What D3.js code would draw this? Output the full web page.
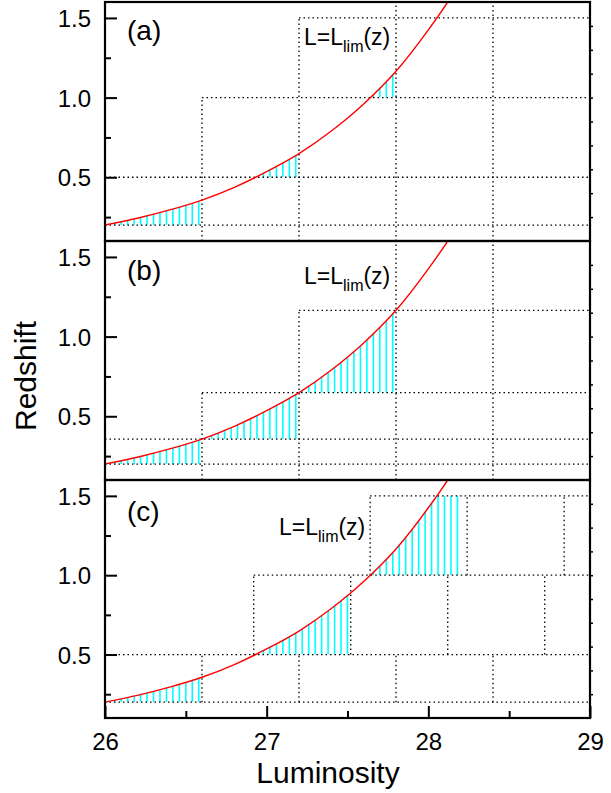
<!DOCTYPE html>
<html>
<head>
<meta charset="utf-8">
<script src="https://cdn.jsdelivr.net/npm/d3@7"></script>
<style>
  html, body { margin: 0; padding: 0; background: #fff; }
  svg { display: block; font-family: "Liberation Sans", Arial, sans-serif; }
</style>
</head>
<body>
<svg id="chart" width="611" height="793"></svg>
<script>
// ---------- data ----------
const panelLabels = ["(a)", "(b)", "(c)"];
const lumTicks = [26, 27, 28, 29];
const lumMinorTicks = [26.5, 27.5, 28.5];
const zMajorTicks = [0.5, 1.0, 1.5];
const zMinorTicks = [0.25, 0.75, 1.25];
const zRightTicks = [0.25, 0.4, 0.55, 0.7, 0.85, 1.0, 1.15, 1.3, 1.45];

// limiting curve L = Llim(z)
const curveL = [26.0, 26.2, 26.4, 26.6, 26.8, 27.0, 27.2, 27.4, 27.6, 27.8, 28.0, 28.12, 28.2];
const curveZ = [0.200, 0.243, 0.295, 0.357, 0.437, 0.535, 0.648, 0.790, 0.960, 1.165, 1.425, 1.600, 1.730];

// dotted grid: horizontal [z, L0, L1], vertical [L, z0, z1]
const gridH_a = [[0.2, 26, 29], [0.5, 26, 29], [1.0, 26.6, 29], [1.5, 27.2, 29]];
const gridV_a = [[26.6, 0.1, 1.0], [27.2, 0.1, 1.5], [27.8, 0.1, 1.6], [28.4, 0.1, 1.6]];
const gridH_b = [[0.2, 26, 29], [0.357, 26, 29], [0.648, 26.6, 29], [1.165, 27.2, 29]];
const gridV_b = [[26.6, 0.1, 0.648], [27.2, 0.1, 1.165], [27.8, 0.1, 1.6], [28.4, 0.1, 1.6]];
const gridH_c = [[0.2, 26, 29], [0.5, 26, 29], [1.0, 26.92, 29], [1.5, 27.64, 29]];
const gridV_c = [[26.6, 0.2, 0.5], [27.2, 0.2, 0.5], [27.8, 0.2, 0.5], [28.4, 0.2, 0.5],
                 [26.92, 0.5, 1.0], [27.52, 0.5, 1.0], [28.12, 0.5, 1.0], [28.72, 0.5, 1.0],
                 [27.64, 1.0, 1.5], [28.24, 1.0, 1.5], [28.84, 1.0, 1.5]];

// hatched cells [L0, L1, z0, z1] (clipped below the curve)
const cells_a = [[26, 26.6, 0.2, 0.5], [26.6, 27.2, 0.5, 1.0], [27.2, 27.8, 1.0, 1.5]];
const cells_b = [[26, 26.6, 0.2, 0.357], [26.6, 27.2, 0.357, 0.648], [27.2, 27.8, 0.648, 1.165]];
const cells_c = [[26, 26.6, 0.2, 0.5], [26.92, 27.52, 0.5, 1.0], [27.64, 28.24, 1.0, 1.5]];

// ---------- layout ----------
const svg = d3.select("#chart");
const FONT = "Liberation Sans, Arial, sans-serif";
const x = d3.scaleLinear().domain([26, 29]).range([105, 590]);
const panels = [
  { top: 2,   bottom: 241, gh: gridH_a, gv: gridV_a, cells: cells_a, labX: 304, labY: 45, tagY: 39.5 },
  { top: 241, bottom: 480, gh: gridH_b, gv: gridV_b, cells: cells_b, labX: 304, labY: 284, tagY: 279.5 },
  { top: 480, bottom: 718, gh: gridH_c, gv: gridV_c, cells: cells_c, labX: 279, labY: 534.5, tagY: 521 }
];
const curvePts = curveL.map((l, i) => [l, curveZ[i]]);
const hatchStep = 0.04;

panels.forEach((p, pi) => {
  const y = d3.scaleLinear().domain([0.1, 1.6]).range([p.bottom, p.top]);
  const g = svg.append("g");

  const clipId = "pclip" + pi;
  svg.append("clipPath").attr("id", clipId).append("rect")
    .attr("x", x(26)).attr("y", p.top).attr("width", x(29) - x(26)).attr("height", p.bottom - p.top);

  const areaId = "aclip" + pi;
  const area = d3.area().x(d => x(d[0])).y0(p.bottom).y1(d => y(d[1])).curve(d3.curveMonotoneX);
  svg.append("clipPath").attr("id", areaId).append("path").attr("d", area(curvePts));

  // hatching
  p.cells.forEach((c, ci) => {
    const cid = "cclip" + pi + "_" + ci;
    svg.append("clipPath").attr("id", cid).append("rect")
      .attr("x", x(c[0])).attr("y", y(c[3])).attr("width", x(c[1]) - x(c[0])).attr("height", y(c[2]) - y(c[3]));
    const hg = g.append("g").attr("clip-path", `url(#${areaId})`)
      .append("g").attr("clip-path", `url(#${cid})`);
    const xs = d3.range(26.02, 29, hatchStep).filter(l => l > c[0] && l < c[1]);
    hg.selectAll("line").data(xs).join("line")
      .attr("x1", d => x(d)).attr("x2", d => x(d))
      .attr("y1", y(c[2])).attr("y2", y(c[3]))
      .attr("stroke", "#00FFFF").attr("stroke-width", 1.6);
  });

  // dotted grid
  const dg = g.append("g").attr("stroke", "#000").attr("stroke-width", 1.3)
    .attr("stroke-dasharray", "1.5,3").attr("fill", "none");
  dg.selectAll("line.h").data(p.gh).join("line").attr("class", "h")
    .attr("x1", d => x(d[1])).attr("x2", d => x(d[2]))
    .attr("y1", d => y(d[0])).attr("y2", d => y(d[0]));
  dg.selectAll("line.v").data(p.gv).join("line").attr("class", "v")
    .attr("x1", d => x(d[0])).attr("x2", d => x(d[0]))
    .attr("y1", d => y(d[1])).attr("y2", d => y(d[2]));

  // curve
  const line = d3.line().x(d => x(d[0])).y(d => y(d[1])).curve(d3.curveMonotoneX);
  g.append("path").attr("d", line(curvePts)).attr("clip-path", `url(#${clipId})`)
    .attr("fill", "none").attr("stroke", "#FF0000").attr("stroke-width", 1.4);

  // left axis with inward ticks
  const la = g.append("g").attr("transform", `translate(${x(26)},0)`)
    .call(d3.axisLeft(y).tickValues(zMajorTicks).tickSize(-12).tickPadding(14).tickFormat(d3.format(".1f")));
  la.select(".domain").remove();
  la.selectAll("line").attr("stroke", "#000").attr("stroke-width", 2);
  la.selectAll("text").attr("font-size", 24).attr("fill", "#000").attr("font-family", FONT).attr("dy", "0.36em");
  const lm = g.append("g").attr("transform", `translate(${x(26)},0)`)
    .call(d3.axisLeft(y).tickValues(zMinorTicks).tickSize(-6).tickFormat(""));
  lm.select(".domain").remove();
  lm.selectAll("line").attr("stroke", "#000").attr("stroke-width", 2);

  // right axis small outward ticks
  const ra = g.append("g").attr("transform", `translate(${x(29)},0)`)
    .call(d3.axisRight(y).tickValues(zRightTicks).tickSize(3).tickFormat(""));
  ra.select(".domain").remove();
  ra.selectAll("line").attr("stroke", "#000").attr("stroke-width", 1.5);

  // frame
  g.append("rect").attr("x", x(26)).attr("y", p.top).attr("width", x(29) - x(26)).attr("height", p.bottom - p.top)
    .attr("fill", "none").attr("stroke", "#000").attr("stroke-width", 2.2);

  // panel tag
  g.append("text").attr("x", 127).attr("y", p.tagY).attr("font-size", 28).attr("fill", "#000")
    .attr("font-family", FONT).text(panelLabels[pi]);

  // curve label
  const t = g.append("text").attr("x", p.labX).attr("y", p.labY).attr("font-size", 23).attr("fill", "#000")
    .attr("font-family", FONT);
  t.append("tspan").text("L=L");
  t.append("tspan").attr("font-size", 16).attr("dy", 7).text("lim");
  t.append("tspan").attr("dy", -7).text("(z)");

  if (pi === panels.length - 1) {
    const ba = g.append("g").attr("transform", `translate(0,${p.bottom})`)
      .call(d3.axisBottom(x).tickValues(lumTicks).tickSize(-12).tickPadding(15).tickFormat(d3.format("d")));
    ba.select(".domain").remove();
    ba.selectAll("line").attr("stroke", "#000").attr("stroke-width", 2);
    ba.selectAll("text").attr("font-size", 24).attr("fill", "#000").attr("font-family", FONT);
    const bm = g.append("g").attr("transform", `translate(0,${p.bottom})`)
      .call(d3.axisBottom(x).tickValues(lumMinorTicks).tickSize(-7).tickFormat(""));
    bm.select(".domain").remove();
    bm.selectAll("line").attr("stroke", "#000").attr("stroke-width", 2);
  }
});

// axis titles
svg.append("text").attr("transform", "translate(36,376) rotate(-90)").attr("font-family", FONT)
  .attr("text-anchor", "middle").attr("font-size", 30).attr("fill", "#000").text("Redshift");
svg.append("text").attr("x", 328).attr("y", 782.5).attr("font-family", FONT)
  .attr("text-anchor", "middle").attr("font-size", 30).attr("fill", "#000").text("Luminosity");
</script>
</body>
</html>
